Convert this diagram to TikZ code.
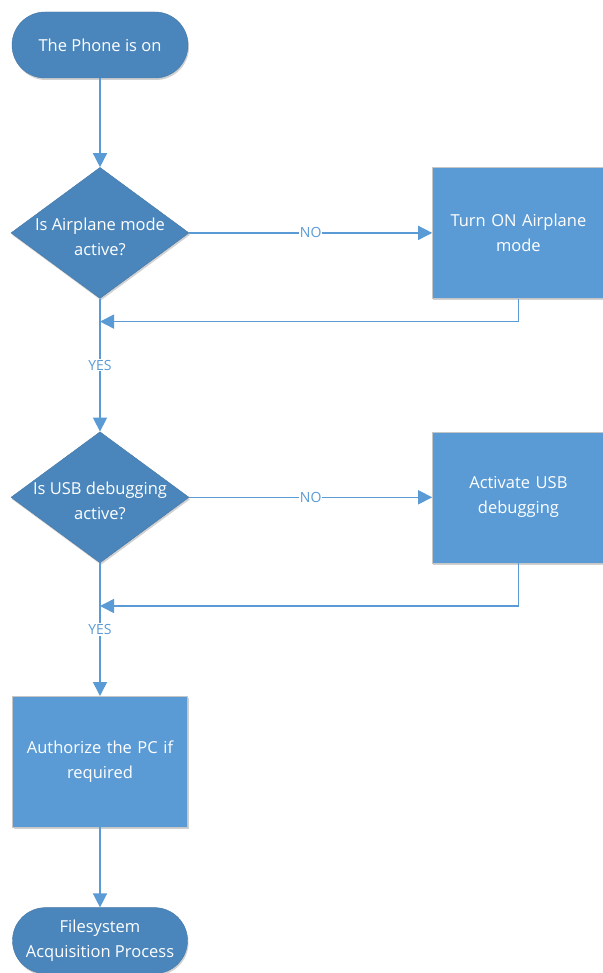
\documentclass[tikz,border=0pt]{standalone}
\usepackage{fontspec}
\setmainfont{Open Sans}
\usetikzlibrary{shapes, arrows.meta, positioning, calc, shadows}
\definecolor{darkblue}{RGB}{74,134,188}
\definecolor{lightblue}{RGB}{91,155,213}
\definecolor{edgeblue}{RGB}{68,118,165}
\tikzset{soft shadow/.style={drop shadow={shadow xshift=1pt, shadow yshift=-2pt, opacity=0.18, fill=black}}}
\tikzset{terminal/.style={draw=edgeblue, fill=darkblue, rounded corners=33pt, minimum width=176pt, minimum height=66pt, text=white, align=center, soft shadow}}
\tikzset{decision/.style={diamond, draw=edgeblue, fill=darkblue, minimum width=178pt, minimum height=131pt, inner sep=0pt, soft shadow}}
\tikzset{decision text/.style={text=white, align=center, inner sep=0pt, yshift=-4pt}}
\tikzset{action/.style={draw=gray!45, fill=lightblue, minimum width=172pt, minimum height=131pt, text width=165pt, text=white, align=center, soft shadow}}
\tikzset{flow/.style={draw=lightblue, line width=1.5pt, -{Triangle[length=14pt, width=14pt]}}}
\tikzset{answer/.style={fill=white, text=lightblue, inner sep=1pt, font=\fontsize{14}{16}\selectfont}}

\begin{document}
\begin{tikzpicture}[x=1pt, y=-1pt, font=\fontsize{16.5}{25}\selectfont, node distance=40pt]
\useasboundingbox (0,0) rectangle (602,973);

\node[terminal] (phone_on) at (100,45) {The Phone is on};
\node[decision, below=89pt of phone_on, label={[decision text]center:Is Airplane mode\\active?}] (airplane) {};
\node[action, right=243pt of airplane] (airplane_on) {Turn ON Airplane\\mode};
\node[decision, below=133pt of airplane, label={[decision text]center:Is USB debugging\\active?}] (usb) {};
\node[action, right=243pt of usb] (usb_on) {Activate USB\\debugging};
\node[action, minimum width=175pt, below=133pt of usb] (authorize) {Authorize the PC if\\required};
\node[terminal, minimum width=175pt, below=80pt of authorize] (acquisition) {Filesystem\\Acquisition Process};

\coordinate (back1) at ($(airplane.south)+(0,23)$);
\coordinate (back2) at ($(usb.south)+(0,43)$);

\draw[flow] (phone_on) -- (airplane);
\draw[flow] (airplane) -- node[answer] {NO} (airplane_on);
\draw[flow] (airplane_on.south) |- (back1);
\draw[flow] (airplane) -- node[answer] {YES} (usb);
\draw[flow] (usb) -- node[answer] {NO} (usb_on);
\draw[flow] (usb_on.south) |- (back2);
\draw[flow] (usb) -- node[answer] {YES} (authorize);
\draw[flow] (authorize) -- (acquisition);

\end{tikzpicture}
\end{document}
